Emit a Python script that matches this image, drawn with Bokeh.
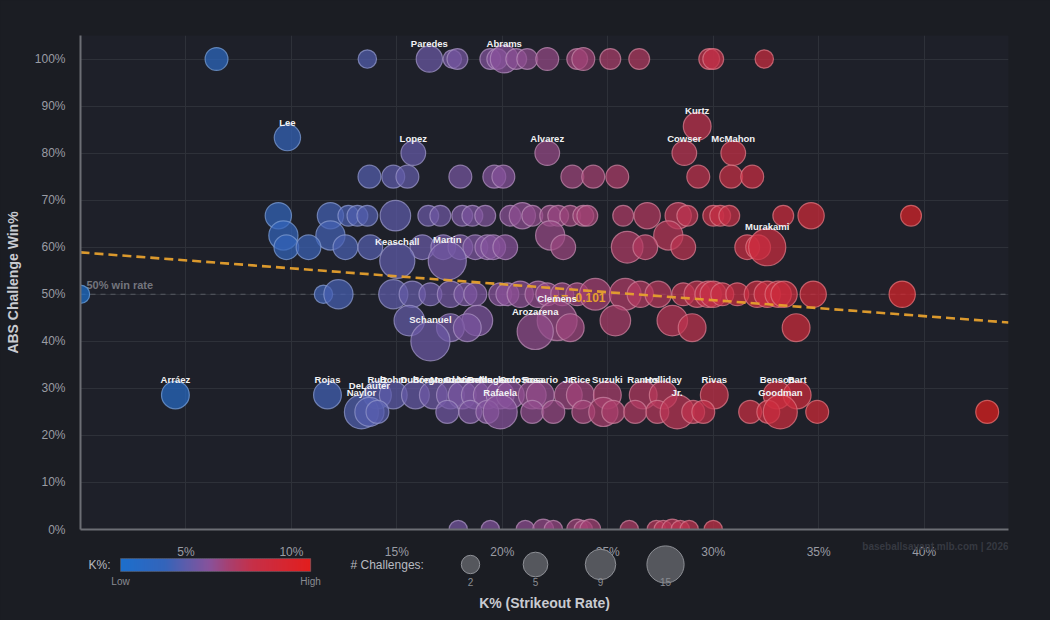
import numpy as np
from bokeh.plotting import figure
from bokeh.layouts import column
from bokeh.models import (ColumnDataSource, Range1d, FixedTicker, PrintfTickFormatter, Span)
from bokeh.core.properties import value
from bokeh.embed import file_html
from bokeh.resources import INLINE

# ---------------- data ----------------
# one array per challenge-win-rate row: K% of each player, number of challenges, label
k_100 = [6.45, 13.6, 16.54, 17.63, 17.87, 19.43, 19.76, 20.09, 20.66, 21.18, 22.13, 23.55, 23.84, 25.12, 26.49, 29.81, 30.0, 32.42]
n_100 = [4, 2, 6, 2, 3, 3, 3, 7, 3, 3, 4, 3, 4, 3, 3, 3, 3, 2]
p_100 = ["", "", "Paredes", "", "", "", "", "Abrams", "", "", "", "", "", "", "", "", "", ""]

k_86 = [29.24]
n_86 = [7]
p_86 = ["Kurtz"]

k_83 = [9.81]
n_83 = [6]
p_83 = ["Lee"]

k_80 = [15.78, 22.13, 28.63, 30.95]
n_80 = [5, 5, 5, 5]
p_80 = ["Lopez", "Alvarez", "Cowser", "McMahon"]

k_75 = [13.7, 14.83, 15.5, 18.01, 19.62, 20.05, 23.32, 24.31, 25.45, 29.29, 30.85, 31.85]
n_75 = [4, 4, 4, 4, 4, 4, 4, 4, 4, 4, 4, 4]

k_67 = [9.38, 11.85, 12.7, 13.13, 13.6, 14.93, 16.49, 17.06, 18.1, 18.58, 19.19, 20.38, 20.95, 21.42, 22.27,
        22.65, 23.22, 23.84, 24.03, 25.73, 26.87, 28.34, 28.77, 30.0, 30.33, 30.76, 33.32, 34.64, 39.38]
n_67 = [6, 6, 3, 3, 3, 9, 3, 3, 3, 3, 3, 3, 6, 3, 3, 3, 3, 3, 3, 3, 6, 6, 3, 3, 3, 3, 3, 6, 3]

k_63 = [9.62, 11.85, 22.27, 27.87]
n_63 = [8, 8, 8, 8]

k_60 = [9.76, 10.81, 12.56, 13.74, 16.21, 17.2, 18.01, 18.72, 19.29, 19.57, 20.14, 22.89, 25.92, 26.78, 28.58, 31.61, 32.13, 32.56]
n_60 = [5, 5, 5, 5, 5, 5, 5, 5, 5, 5, 5, 5, 10, 5, 5, 5, 5, 15]
p_60 = ["", "", "", "", "", "", "", "", "", "", "", "", "", "", "", "", "", "Murakami"]

k_57 = [15.02, 17.39]
n_57 = [13, 16]
p_57 = ["Keaschall", "Martin"]

k_50 = [0.0, 11.52, 12.23, 14.83, 15.73, 16.59, 17.54, 18.25, 18.72, 19.9, 20.24, 20.85, 21.7, 22.13, 22.84, 23.55,
        24.41, 25.83, 26.54, 27.39, 28.58, 29.24, 29.76, 30.0, 30.43, 31.14, 32.09, 32.56, 33.08, 33.36, 34.74, 38.96]
n_50 = [2, 2, 8, 8, 6, 4, 6, 4, 4, 4, 4, 6, 6, 4, 4, 4, 10, 10, 6, 6, 4, 6, 6, 6, 4, 4, 6, 6, 6, 6, 6, 6]

k_44 = [15.59, 18.82, 22.6, 25.36, 28.06]
n_44 = [9, 9, 18, 9, 9]
p_44 = ["", "", "Clemens", "", ""]

k_43 = [17.54, 18.34, 23.22, 29.0, 33.93]
n_43 = [7, 7, 7, 7, 7]

k_42 = [21.56]
n_42 = [14]
p_42 = ["Arozarena"]

k_40 = [16.59]
n_40 = [17]
p_40 = ["Schanuel"]

k_29 = [4.5, 11.71, 14.08, 14.83, 15.88, 16.73, 17.54, 18.1, 18.72, 19.29, 19.9, 20.38, 21.42, 21.8, 23.13,
        23.7, 24.98, 26.68, 27.63, 30.05, 33.03, 33.98]
n_29 = [7, 7, 7, 7, 7, 7, 7, 7, 7, 7, 7, 7, 7, 7, 7, 7, 7, 7, 7, 7, 7, 7]
p_29 = ["Arráez", "Rojas", "Ruiz", "Bohm", "Dubón", "Bregman", "Mendoza", "Cabrera", "Vientos", "Bellinger",
        "Machado", "Soto", "Sosa", "Rosario", "Jr.", "Rice", "Suzuki", "Ramos", "Holliday", "Rivas", "Benson", "Bart"]

k_25 = [13.32, 13.7, 14.08, 17.39, 18.48, 19.29, 19.9, 21.42, 22.42, 23.84, 24.79, 25.26, 26.3, 27.35, 28.29,
        29.05, 29.53, 31.75, 32.61, 33.18, 34.93, 42.99]
n_25 = [12, 8, 4, 4, 4, 4, 12, 4, 4, 4, 8, 4, 4, 4, 12, 4, 4, 4, 4, 12, 4, 4]
p_25 = ["Naylor", "DeLauter", "", "", "", "", "Rafaela", "", "", "", "", "", "", "", "Jr.", "", "", "", "",
        "Goodman", "", ""]

k_0 = [17.91, 19.43, 21.09, 21.94, 22.42, 23.55, 23.84, 24.17, 26.02, 27.3, 27.63, 28.06, 28.44, 28.86, 30.0]
n_0 = [2, 2, 2, 3, 2, 3, 2, 3, 2, 2, 2, 3, 2, 2, 2]

rows = [
    (100.0, k_100, n_100, p_100), (85.7, k_86, n_86, p_86), (83.3, k_83, n_83, p_83),
    (80.0, k_80, n_80, p_80), (75.0, k_75, n_75, None), (66.7, k_67, n_67, None),
    (62.5, k_63, n_63, None), (60.0, k_60, n_60, p_60), (57.1, k_57, n_57, p_57),
    (50.0, k_50, n_50, None), (44.4, k_44, n_44, p_44), (42.9, k_43, n_43, None),
    (42.1, k_42, n_42, p_42), (40.0, k_40, n_40, p_40), (28.6, k_29, n_29, p_29),
    (25.0, k_25, n_25, p_25), (0.0, k_0, n_0, None),
]

# trend line end points and correlation
trend_k = [0.0, 44.0]
trend_win = [58.9, 44.0]
trend_r = -0.101
reference_win = 50.0

# legend values
legend_challenges = [2, 5, 9, 15]

x_ticks = [5, 10, 15, 20, 25, 30, 35, 40]
y_ticks = [0, 10, 20, 30, 40, 50, 60, 70, 80, 90, 100]

# ---------------- styles ----------------
FONT = "Liberation Sans"
BG = "#1b1d23"
PLOT_BG = "#1e2029"
CMAP_K = [0, 10, 15, 20, 25, 30, 43]
CMAP_RGB = [(29, 111, 204), (52, 100, 186), (95, 92, 170), (135, 82, 155),
            (170, 62, 108), (198, 48, 72), (226, 30, 30)]


def kcolor(k, mix=0.0):
    rgb = [np.interp(k, CMAP_K, [c[i] for c in CMAP_RGB]) for i in range(3)]
    rgb = [v + (255 - v) * mix for v in rgb]
    return "#%02x%02x%02x" % tuple(int(round(v)) for v in rgb)


def radius(n):
    return 3.8 + 3.82 * np.sqrt(n)


ks, ws, ns, ps = [], [], [], []
for w, kk, nn, pp in rows:
    ks += list(kk)
    ws += [w] * len(kk)
    ns += list(nn)
    ps += list(pp) if pp is not None else [""] * len(kk)

rad = [radius(n) for n in ns]
src = ColumnDataSource(dict(
    k=ks, w=ws, n=ns, size=[2 * r for r in rad],
    fill=[kcolor(k) for k in ks], line=[kcolor(k, 0.35) for k in ks],
))

label_raise = {"DeLauter": 10}
lk, lw, lp, lo = [], [], [], []
for k, w, p_, r in zip(ks, ws, ps, rad):
    if p_:
        lk.append(k); lw.append(w); lp.append(p_)
        lo.append(-(r + 2 + label_raise.get(p_, 0)))
lab_src = ColumnDataSource(dict(k=lk, w=lw, player=lp, yo=lo))

# ---------------- main figure ----------------
FL, FR, FB = 80, 1008, 529  # frame left / right / bottom on the canvas
p = figure(width=1050, height=620, x_range=Range1d(0, 44), y_range=Range1d(0, 105),
           output_backend="svg", toolbar_location=None,
           min_border_left=FL, min_border_right=1050 - FR, min_border_top=35, min_border_bottom=620 - FB,
           background_fill_color=PLOT_BG, border_fill_color=BG, outline_line_color=None)

for ax in (p.xaxis, p.yaxis):
    ax.axis_line_color = "#6c6e75"
    ax.axis_line_width = 2
    ax.major_tick_line_color = None
    ax.minor_tick_line_color = None
    ax.major_label_text_color = "#9a9ca3"
    ax.major_label_text_font = FONT
    ax.major_label_text_font_size = "12px"
    ax.major_label_standoff = 9
    ax.axis_label_text_color = "#c9cbd1"
    ax.axis_label_text_font = FONT
    ax.axis_label_text_font_style = "bold"
    ax.axis_label_text_font_size = "14px"
    ax.formatter = PrintfTickFormatter(format="%d%%")
p.xaxis.ticker = FixedTicker(ticks=x_ticks)
p.yaxis.ticker = FixedTicker(ticks=y_ticks)
p.xaxis.axis_label = "K% (Strikeout Rate)"
p.xaxis.axis_label_standoff = 33
p.yaxis.axis_label = "ABS Challenge Win%"
p.yaxis.axis_label_standoff = 11
p.xgrid.ticker = FixedTicker(ticks=x_ticks)
p.ygrid.ticker = FixedTicker(ticks=y_ticks)
p.grid.grid_line_color = "#2e3139"
p.grid.grid_line_width = 1

# 50% reference line
p.add_layout(Span(location=reference_win, dimension="width", line_color="#575a62",
                  line_width=1, line_dash="5 5", level="underlay"))
p.text(x=[0], y=[reference_win], text=["50% win rate"], x_offset=6, y_offset=-3,
       text_align="left", text_baseline="bottom", text_font=value(FONT), text_font_style="bold",
       text_font_size=value("11px"), text_color="#73757d")

# bubbles
p.scatter(x="k", y="w", size="size", source=src, marker="circle",
          fill_color="fill", fill_alpha=0.72, line_color="line", line_alpha=0.75, line_width=1.2)

# trend line
p.line(trend_k, trend_win, line_color="#e6a02d", line_width=2.6, line_dash="9 5", line_alpha=0.95)
p.text(x=[23.65], y=[49.1], text=["r = %.3f" % trend_r], text_align="center", text_baseline="middle",
       text_font=value(FONT), text_font_style="bold", text_font_size=value("12px"), text_color="#e6a02d")

# point labels
p.text(x="k", y="w", text="player", source=lab_src, y_offset="yo", text_align="center",
       text_baseline="alphabetic", text_font=value(FONT), text_font_style="bold",
       text_font_size=value("9.5px"), text_color="#f2f2f4")

# ---------------- legend strip (overlaps the bottom of the main figure, transparent) ----------------
# its frame is aligned with the main frame, so its x range is expressed in canvas pixels FL..FR
LEG_TOP, LEG_BOTTOM = 540, 600
leg = figure(width=1050, height=LEG_BOTTOM - LEG_TOP, x_range=Range1d(FL, FR),
             y_range=Range1d(LEG_BOTTOM, LEG_TOP), output_backend="svg", toolbar_location=None,
             x_axis_type=None, y_axis_type=None, min_border=0, min_border_left=FL,
             min_border_right=1050 - FR, outline_line_color=None,
             background_fill_alpha=0, border_fill_alpha=0,
             margin=(LEG_TOP - 620, 0, 620 - LEG_BOTTOM, 0))
leg.grid.visible = False


def leg_text(X, Y, text, size="12px", color="#b8bac0", align="left", bold=False):
    leg.text(x=[X], y=[Y], text=[text], text_align=align, text_baseline="middle",
             text_font=value(FONT), text_font_size=value(size), text_color=color,
             text_font_style="bold" if bold else "normal")


leg_text(FR, 546, "baseballsavant.mlb.com | 2026", size="10px", color="#363941", align="right", bold=True)

leg_text(110, 564, "K%:", align="right")
bar_x0, bar_x1, bar_y0, bar_y1 = 120, 310, 558, 571
steps = 95
lefts = [bar_x0 + (bar_x1 - bar_x0) * i / steps for i in range(steps)]
rights = [l + (bar_x1 - bar_x0) / steps + 0.6 for l in lefts]
cols = [kcolor(CMAP_K[-1] * i / (steps - 1)) for i in range(steps)]
leg.quad(left=lefts, right=rights, top=bar_y0, bottom=bar_y1, fill_color=cols, line_color=None)
leg.quad(left=[bar_x0], right=[bar_x1], top=[bar_y0], bottom=[bar_y1], fill_alpha=0,
         line_color="#5a5c64", line_width=1, line_alpha=0.6)
leg_text(120, 581, "Low", size="10px", color="#8a8c92", align="center")
leg_text(310, 581, "High", size="10px", color="#8a8c92", align="center")

leg_text(350, 564, "# Challenges:")
leg_x = [470, 535, 600, 665]
leg.scatter(x=leg_x, y=[564] * len(leg_x), size=[2 * radius(n) for n in legend_challenges], marker="circle",
            fill_color="#55575d", fill_alpha=1.0, line_color="#8e9096", line_width=1)
for cx, n in zip(leg_x, legend_challenges):
    leg_text(cx, 581, str(n), size="10px", color="#8a8c92", align="center")

layout = column(p, leg, spacing=0, styles={"background-color": BG})
open("out.html", "w").write(file_html(layout, INLINE))
